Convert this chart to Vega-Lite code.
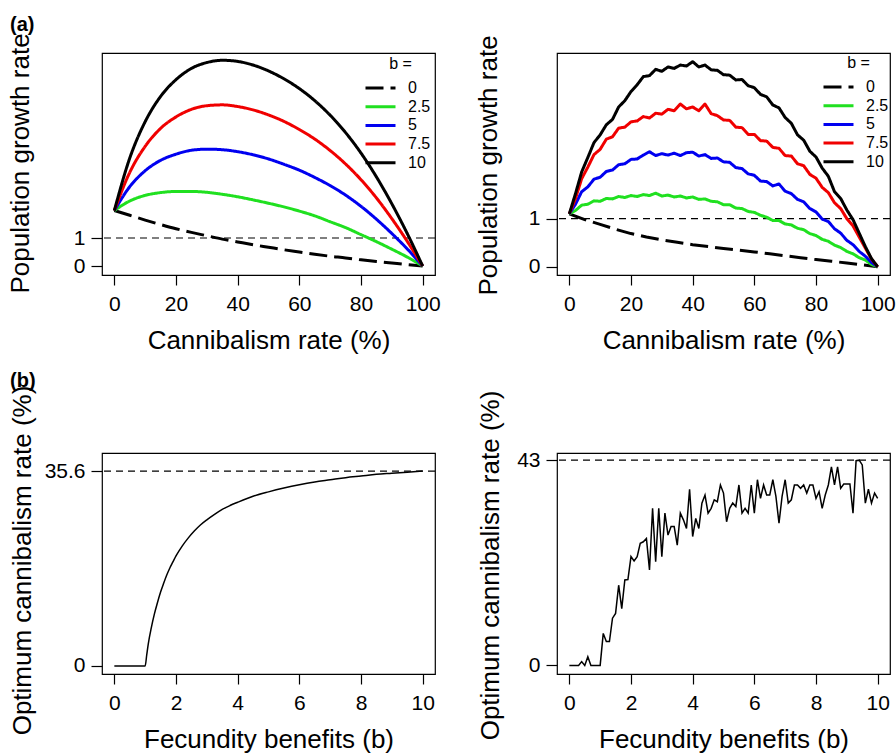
{
"$schema":"https://vega.github.io/schema/vega-lite/v6.json",
"autosize":{"type":"none"},
"padding":{"left":102,"top":53,"right":794,"bottom":702},
"background":"white",
"config":{
 "font":"Liberation Sans",
 "view":{"stroke":"black","strokeWidth":1.2},
 "axis":{"domain":false,"grid":false,"ticks":true,"tickColor":"black","tickWidth":1.2,"labelColor":"black","labelFont":"Liberation Sans","labelFontSize":21,"titleFont":"Liberation Sans","titleFontSize":26,"titleFontWeight":"normal","titleColor":"black","labelFlush":false,"labelOverlap":false},
 "axisX":{"tickSize":10,"labelPadding":8.5,"titleBaseline":"middle","titleY":65},
 "axisY":{"tickSize":11,"labelPadding":6,"labelAngle":0,"titleBaseline":"middle","titleAngle":-90}
},
"datasets":{
"tl":[
{"b":"0","c":0,"g":1.98},{"b":"0","c":5,"g":1.81},{"b":"0","c":10,"g":1.64},{"b":"0","c":15,"g":1.48},{"b":"0","c":20,"g":1.33},{"b":"0","c":25,"g":1.2},{"b":"0","c":30,"g":1.08},{"b":"0","c":35,"g":0.96},{"b":"0","c":40,"g":0.86},{"b":"0","c":45,"g":0.76},{"b":"0","c":50,"g":0.67},{"b":"0","c":55,"g":0.58},{"b":"0","c":60,"g":0.5},{"b":"0","c":65,"g":0.42},{"b":"0","c":70,"g":0.35},{"b":"0","c":75,"g":0.29},{"b":"0","c":80,"g":0.22},{"b":"0","c":85,"g":0.16},{"b":"0","c":90,"g":0.105},{"b":"0","c":95,"g":0.05},{"b":"0","c":100,"g":0},
{"b":"2.5","c":0,"g":1.98},{"b":"2.5","c":5,"g":2.32},{"b":"2.5","c":10,"g":2.52},{"b":"2.5","c":15,"g":2.62},{"b":"2.5","c":20,"g":2.66},{"b":"2.5","c":25,"g":2.66},{"b":"2.5","c":30,"g":2.63},{"b":"2.5","c":35,"g":2.56},{"b":"2.5","c":40,"g":2.47},{"b":"2.5","c":45,"g":2.36},{"b":"2.5","c":50,"g":2.24},{"b":"2.5","c":55,"g":2.11},{"b":"2.5","c":60,"g":1.96},{"b":"2.5","c":65,"g":1.79},{"b":"2.5","c":70,"g":1.58},{"b":"2.5","c":75,"g":1.37},{"b":"2.5","c":80,"g":1.12},{"b":"2.5","c":85,"g":0.87},{"b":"2.5","c":90,"g":0.6},{"b":"2.5","c":95,"g":0.32},{"b":"2.5","c":100,"g":0},
{"b":"5","c":0,"g":1.98},{"b":"5","c":5,"g":2.83},{"b":"5","c":10,"g":3.4},{"b":"5","c":15,"g":3.77},{"b":"5","c":20,"g":3.99},{"b":"5","c":25,"g":4.13},{"b":"5","c":30,"g":4.17},{"b":"5","c":35,"g":4.15},{"b":"5","c":40,"g":4.08},{"b":"5","c":45,"g":3.97},{"b":"5","c":50,"g":3.82},{"b":"5","c":55,"g":3.63},{"b":"5","c":60,"g":3.42},{"b":"5","c":65,"g":3.16},{"b":"5","c":70,"g":2.87},{"b":"5","c":75,"g":2.53},{"b":"5","c":80,"g":2.13},{"b":"5","c":85,"g":1.67},{"b":"5","c":90,"g":1.16},{"b":"5","c":95,"g":0.61},{"b":"5","c":100,"g":0},
{"b":"7.5","c":0,"g":1.98},{"b":"7.5","c":5,"g":3.34},{"b":"7.5","c":10,"g":4.27},{"b":"7.5","c":15,"g":4.91},{"b":"7.5","c":20,"g":5.32},{"b":"7.5","c":25,"g":5.59},{"b":"7.5","c":30,"g":5.72},{"b":"7.5","c":35,"g":5.75},{"b":"7.5","c":40,"g":5.69},{"b":"7.5","c":45,"g":5.57},{"b":"7.5","c":50,"g":5.39},{"b":"7.5","c":55,"g":5.16},{"b":"7.5","c":60,"g":4.87},{"b":"7.5","c":65,"g":4.53},{"b":"7.5","c":70,"g":4.12},{"b":"7.5","c":75,"g":3.64},{"b":"7.5","c":80,"g":3.08},{"b":"7.5","c":85,"g":2.43},{"b":"7.5","c":90,"g":1.69},{"b":"7.5","c":95,"g":0.88},{"b":"7.5","c":100,"g":0},
{"b":"10","c":0,"g":1.98},{"b":"10","c":5,"g":3.85},{"b":"10","c":10,"g":5.15},{"b":"10","c":15,"g":6.05},{"b":"10","c":20,"g":6.65},{"b":"10","c":25,"g":7.05},{"b":"10","c":30,"g":7.26},{"b":"10","c":35,"g":7.34},{"b":"10","c":40,"g":7.3},{"b":"10","c":45,"g":7.17},{"b":"10","c":50,"g":6.96},{"b":"10","c":55,"g":6.68},{"b":"10","c":60,"g":6.33},{"b":"10","c":65,"g":5.9},{"b":"10","c":70,"g":5.38},{"b":"10","c":75,"g":4.76},{"b":"10","c":80,"g":4.03},{"b":"10","c":85,"g":3.18},{"b":"10","c":90,"g":2.22},{"b":"10","c":95,"g":1.16},{"b":"10","c":100,"g":0}
],
"tr":[
{"b":"0","c":0,"g":1.1},{"b":"0","c":5,"g":0.98},{"b":"0","c":10,"g":0.88},{"b":"0","c":15,"g":0.78},{"b":"0","c":20,"g":0.69},{"b":"0","c":25,"g":0.62},{"b":"0","c":30,"g":0.56},{"b":"0","c":35,"g":0.51},{"b":"0","c":40,"g":0.46},{"b":"0","c":45,"g":0.42},{"b":"0","c":50,"g":0.38},{"b":"0","c":55,"g":0.345},{"b":"0","c":60,"g":0.31},{"b":"0","c":65,"g":0.27},{"b":"0","c":70,"g":0.23},{"b":"0","c":75,"g":0.19},{"b":"0","c":80,"g":0.15},{"b":"0","c":85,"g":0.115},{"b":"0","c":90,"g":0.08},{"b":"0","c":95,"g":0.04},{"b":"0","c":100,"g":0},
{"b":"2.5","c":0,"g":1.1},{"b":"2.5","c":2,"g":1.17},{"b":"2.5","c":4,"g":1.28},{"b":"2.5","c":6,"g":1.3},{"b":"2.5","c":8,"g":1.37},{"b":"2.5","c":10,"g":1.36},{"b":"2.5","c":12,"g":1.42},{"b":"2.5","c":14,"g":1.41},{"b":"2.5","c":16,"g":1.46},{"b":"2.5","c":18,"g":1.44},{"b":"2.5","c":20,"g":1.48},{"b":"2.5","c":22,"g":1.46},{"b":"2.5","c":24,"g":1.5},{"b":"2.5","c":26,"g":1.48},{"b":"2.5","c":28,"g":1.53},{"b":"2.5","c":30,"g":1.47},{"b":"2.5","c":32,"g":1.49},{"b":"2.5","c":34,"g":1.45},{"b":"2.5","c":36,"g":1.47},{"b":"2.5","c":38,"g":1.43},{"b":"2.5","c":40,"g":1.45},{"b":"2.5","c":42,"g":1.4},{"b":"2.5","c":44,"g":1.41},{"b":"2.5","c":46,"g":1.36},{"b":"2.5","c":48,"g":1.35},{"b":"2.5","c":50,"g":1.29},{"b":"2.5","c":52,"g":1.29},{"b":"2.5","c":54,"g":1.22},{"b":"2.5","c":56,"g":1.21},{"b":"2.5","c":58,"g":1.15},{"b":"2.5","c":60,"g":1.13},{"b":"2.5","c":62,"g":1.07},{"b":"2.5","c":64,"g":1.03},{"b":"2.5","c":66,"g":0.96},{"b":"2.5","c":68,"g":0.96},{"b":"2.5","c":70,"g":0.89},{"b":"2.5","c":72,"g":0.87},{"b":"2.5","c":74,"g":0.8},{"b":"2.5","c":76,"g":0.77},{"b":"2.5","c":78,"g":0.69},{"b":"2.5","c":80,"g":0.65},{"b":"2.5","c":82,"g":0.57},{"b":"2.5","c":84,"g":0.53},{"b":"2.5","c":86,"g":0.45},{"b":"2.5","c":88,"g":0.4},{"b":"2.5","c":90,"g":0.32},{"b":"2.5","c":92,"g":0.27},{"b":"2.5","c":94,"g":0.19},{"b":"2.5","c":96,"g":0.14},{"b":"2.5","c":98,"g":0.05},{"b":"2.5","c":100,"g":0},
{"b":"5","c":0,"g":1.1},{"b":"5","c":2,"g":1.3},{"b":"5","c":4,"g":1.56},{"b":"5","c":6,"g":1.66},{"b":"5","c":8,"g":1.82},{"b":"5","c":10,"g":1.86},{"b":"5","c":12,"g":1.98},{"b":"5","c":14,"g":2.01},{"b":"5","c":16,"g":2.12},{"b":"5","c":18,"g":2.14},{"b":"5","c":20,"g":2.23},{"b":"5","c":22,"g":2.24},{"b":"5","c":24,"g":2.32},{"b":"5","c":26,"g":2.39},{"b":"5","c":28,"g":2.31},{"b":"5","c":30,"g":2.35},{"b":"5","c":32,"g":2.32},{"b":"5","c":34,"g":2.36},{"b":"5","c":36,"g":2.31},{"b":"5","c":38,"g":2.37},{"b":"5","c":40,"g":2.38},{"b":"5","c":42,"g":2.3},{"b":"5","c":44,"g":2.33},{"b":"5","c":46,"g":2.25},{"b":"5","c":48,"g":2.26},{"b":"5","c":50,"g":2.18},{"b":"5","c":52,"g":2.17},{"b":"5","c":54,"g":2.06},{"b":"5","c":56,"g":2.04},{"b":"5","c":58,"g":1.93},{"b":"5","c":60,"g":1.9},{"b":"5","c":62,"g":1.78},{"b":"5","c":64,"g":1.77},{"b":"5","c":66,"g":1.68},{"b":"5","c":68,"g":1.72},{"b":"5","c":70,"g":1.57},{"b":"5","c":72,"g":1.52},{"b":"5","c":74,"g":1.4},{"b":"5","c":76,"g":1.35},{"b":"5","c":78,"g":1.21},{"b":"5","c":80,"g":1.14},{"b":"5","c":82,"g":0.99},{"b":"5","c":84,"g":0.94},{"b":"5","c":86,"g":0.79},{"b":"5","c":88,"g":0.7},{"b":"5","c":90,"g":0.55},{"b":"5","c":92,"g":0.46},{"b":"5","c":94,"g":0.32},{"b":"5","c":96,"g":0.22},{"b":"5","c":98,"g":0.09},{"b":"5","c":100,"g":0},
{"b":"7.5","c":0,"g":1.1},{"b":"7.5","c":2,"g":1.42},{"b":"7.5","c":4,"g":1.83},{"b":"7.5","c":6,"g":2.07},{"b":"7.5","c":8,"g":2.33},{"b":"7.5","c":10,"g":2.44},{"b":"7.5","c":12,"g":2.65},{"b":"7.5","c":14,"g":2.7},{"b":"7.5","c":16,"g":2.88},{"b":"7.5","c":18,"g":2.9},{"b":"7.5","c":20,"g":3.01},{"b":"7.5","c":22,"g":3.03},{"b":"7.5","c":24,"g":3.12},{"b":"7.5","c":26,"g":3.09},{"b":"7.5","c":28,"g":3.19},{"b":"7.5","c":30,"g":3.17},{"b":"7.5","c":32,"g":3.27},{"b":"7.5","c":34,"g":3.24},{"b":"7.5","c":36,"g":3.38},{"b":"7.5","c":38,"g":3.28},{"b":"7.5","c":40,"g":3.32},{"b":"7.5","c":42,"g":3.24},{"b":"7.5","c":44,"g":3.38},{"b":"7.5","c":46,"g":3.18},{"b":"7.5","c":48,"g":3.14},{"b":"7.5","c":50,"g":3.05},{"b":"7.5","c":52,"g":3.04},{"b":"7.5","c":54,"g":2.9},{"b":"7.5","c":56,"g":2.89},{"b":"7.5","c":58,"g":2.75},{"b":"7.5","c":60,"g":2.75},{"b":"7.5","c":62,"g":2.62},{"b":"7.5","c":64,"g":2.61},{"b":"7.5","c":66,"g":2.48},{"b":"7.5","c":68,"g":2.46},{"b":"7.5","c":70,"g":2.31},{"b":"7.5","c":72,"g":2.3},{"b":"7.5","c":74,"g":2.14},{"b":"7.5","c":76,"g":2.1},{"b":"7.5","c":78,"g":1.92},{"b":"7.5","c":80,"g":1.84},{"b":"7.5","c":82,"g":1.65},{"b":"7.5","c":84,"g":1.54},{"b":"7.5","c":86,"g":1.33},{"b":"7.5","c":88,"g":1.21},{"b":"7.5","c":90,"g":1.0},{"b":"7.5","c":92,"g":0.85},{"b":"7.5","c":94,"g":0.62},{"b":"7.5","c":96,"g":0.39},{"b":"7.5","c":98,"g":0.16},{"b":"7.5","c":100,"g":0},
{"b":"10","c":0,"g":1.1},{"b":"10","c":2,"g":1.52},{"b":"10","c":4,"g":1.97},{"b":"10","c":6,"g":2.27},{"b":"10","c":8,"g":2.58},{"b":"10","c":10,"g":2.74},{"b":"10","c":12,"g":2.95},{"b":"10","c":14,"g":3.06},{"b":"10","c":16,"g":3.32},{"b":"10","c":18,"g":3.45},{"b":"10","c":20,"g":3.64},{"b":"10","c":22,"g":3.78},{"b":"10","c":24,"g":3.95},{"b":"10","c":26,"g":3.97},{"b":"10","c":28,"g":4.1},{"b":"10","c":30,"g":4.06},{"b":"10","c":32,"g":4.15},{"b":"10","c":34,"g":4.12},{"b":"10","c":36,"g":4.19},{"b":"10","c":38,"g":4.17},{"b":"10","c":40,"g":4.26},{"b":"10","c":42,"g":4.15},{"b":"10","c":44,"g":4.19},{"b":"10","c":46,"g":4.09},{"b":"10","c":48,"g":4.08},{"b":"10","c":50,"g":3.99},{"b":"10","c":52,"g":3.98},{"b":"10","c":54,"g":3.88},{"b":"10","c":56,"g":3.89},{"b":"10","c":58,"g":3.76},{"b":"10","c":60,"g":3.72},{"b":"10","c":62,"g":3.58},{"b":"10","c":64,"g":3.53},{"b":"10","c":66,"g":3.36},{"b":"10","c":68,"g":3.3},{"b":"10","c":70,"g":3.1},{"b":"10","c":72,"g":2.98},{"b":"10","c":74,"g":2.74},{"b":"10","c":76,"g":2.63},{"b":"10","c":78,"g":2.4},{"b":"10","c":80,"g":2.28},{"b":"10","c":82,"g":2.05},{"b":"10","c":84,"g":1.88},{"b":"10","c":86,"g":1.56},{"b":"10","c":88,"g":1.42},{"b":"10","c":90,"g":1.18},{"b":"10","c":92,"g":0.98},{"b":"10","c":94,"g":0.7},{"b":"10","c":96,"g":0.42},{"b":"10","c":98,"g":0.17},{"b":"10","c":100,"g":0}
],
"bl":[
{"b":0,"opt":0},{"b":0.5,"opt":0},{"b":1.0,"opt":0},{"b":1.05,"opt":2.0},{"b":1.1,"opt":4.0},{"b":1.2,"opt":7.0},{"b":1.3,"opt":9.5},{"b":1.4,"opt":11.6},{"b":1.5,"opt":13.5},{"b":1.6,"opt":15.1},{"b":1.7,"opt":16.6},{"b":1.8,"opt":17.9},{"b":1.9,"opt":19.0},{"b":2.0,"opt":20.1},{"b":2.2,"opt":21.9},{"b":2.4,"opt":23.4},{"b":2.6,"opt":24.7},{"b":2.8,"opt":25.8},{"b":3.0,"opt":26.7},{"b":3.25,"opt":27.7},{"b":3.5,"opt":28.6},{"b":3.75,"opt":29.3},{"b":4.0,"opt":29.9},{"b":4.5,"opt":31.0},{"b":5.0,"opt":31.8},{"b":5.5,"opt":32.5},{"b":6.0,"opt":33.1},{"b":6.5,"opt":33.6},{"b":7.0,"opt":34.0},{"b":7.5,"opt":34.4},{"b":8.0,"opt":34.7},{"b":8.5,"opt":35.0},{"b":9.0,"opt":35.2},{"b":9.5,"opt":35.4},{"b":10.0,"opt":35.6}
],
"br":[
{"b":0,"opt":0},{"b":0.1,"opt":0},{"b":0.2,"opt":0},{"b":0.3,"opt":0},{"b":0.4,"opt":0.8},{"b":0.5,"opt":0},{"b":0.6,"opt":1.8},{"b":0.7,"opt":0},{"b":0.8,"opt":0},{"b":0.9,"opt":0},{"b":1.0,"opt":0},{"b":1.1,"opt":6.7},{"b":1.2,"opt":5.0},{"b":1.3,"opt":5.0},{"b":1.4,"opt":9.9},{"b":1.5,"opt":10.9},{"b":1.6,"opt":16.8},{"b":1.7,"opt":11.9},{"b":1.8,"opt":17.9},{"b":1.9,"opt":18.0},{"b":2.0,"opt":22.8},{"b":2.1,"opt":21.9},{"b":2.2,"opt":22.8},{"b":2.3,"opt":25.6},{"b":2.4,"opt":25.9},{"b":2.5,"opt":26.6},{"b":2.6,"opt":20.0},{"b":2.7,"opt":32.9},{"b":2.8,"opt":21.7},{"b":2.9,"opt":32.9},{"b":3.0,"opt":22.8},{"b":3.1,"opt":31.9},{"b":3.2,"opt":27.3},{"b":3.3,"opt":29.1},{"b":3.4,"opt":29.1},{"b":3.5,"opt":25.2},{"b":3.6,"opt":31.9},{"b":3.7,"opt":30.5},{"b":3.8,"opt":28.7},{"b":3.9,"opt":36.9},{"b":4.0,"opt":27.0},{"b":4.1,"opt":30.8},{"b":4.2,"opt":28.7},{"b":4.3,"opt":34.0},{"b":4.4,"opt":35.7},{"b":4.5,"opt":31.9},{"b":4.6,"opt":32.9},{"b":4.7,"opt":34.7},{"b":4.8,"opt":34.3},{"b":4.9,"opt":37.8},{"b":5.0,"opt":36.1},{"b":5.1,"opt":30.1},{"b":5.2,"opt":32.9},{"b":5.3,"opt":34.0},{"b":5.4,"opt":33.3},{"b":5.5,"opt":37.8},{"b":5.6,"opt":31.9},{"b":5.7,"opt":32.9},{"b":5.8,"opt":31.9},{"b":5.9,"opt":37.8},{"b":6.0,"opt":31.9},{"b":6.1,"opt":38.9},{"b":6.2,"opt":35.0},{"b":6.3,"opt":37.8},{"b":6.4,"opt":35.7},{"b":6.5,"opt":35.7},{"b":6.6,"opt":38.9},{"b":6.7,"opt":35.4},{"b":6.8,"opt":29.8},{"b":6.9,"opt":35.4},{"b":7.0,"opt":38.9},{"b":7.1,"opt":34.0},{"b":7.2,"opt":34.7},{"b":7.3,"opt":37.8},{"b":7.4,"opt":37.8},{"b":7.5,"opt":37.1},{"b":7.6,"opt":37.8},{"b":7.7,"opt":36.1},{"b":7.8,"opt":37.8},{"b":7.9,"opt":37.8},{"b":8.0,"opt":35.0},{"b":8.1,"opt":36.4},{"b":8.2,"opt":32.9},{"b":8.3,"opt":35.7},{"b":8.4,"opt":37.8},{"b":8.5,"opt":41.6},{"b":8.6,"opt":37.8},{"b":8.7,"opt":41.6},{"b":8.8,"opt":37.1},{"b":8.9,"opt":38.0},{"b":9.0,"opt":38.0},{"b":9.1,"opt":38.0},{"b":9.2,"opt":31.9},{"b":9.3,"opt":42.9},{"b":9.4,"opt":43.0},{"b":9.5,"opt":42.0},{"b":9.6,"opt":34.0},{"b":9.7,"opt":36.9},{"b":9.8,"opt":34.0},{"b":9.9,"opt":36.1},{"b":10.0,"opt":35.0}
]
},
"columns":2,
"bounds":"flush",
"spacing":{"row":178,"column":122},
"resolve":{"scale":{"color":"independent","strokeDash":"independent"},"legend":{"color":"independent","strokeDash":"independent"}},
"concat":[
{
 "width":333,"height":222,
 "title":{"text":"(a)","anchor":"start","frame":"group","orient":"top","offset":-22,"dx":-92,"baseline":"bottom","fontSize":20,"fontWeight":"bold","color":"black","font":"Liberation Sans"},
 "layer":[
  {"data":{"values":[{"g":1}]},"mark":{"type":"rule","color":"black","strokeWidth":1.2,"strokeDash":[7,5]},
   "encoding":{"y":{"field":"g","type":"quantitative","scale":{"domain":[-0.32,7.6],"nice":false,"zero":false},"axis":{"values":[0,1],"format":"d","title":"Population growth rate","titleX":-82,"titleY":110}}}},
  {"data":{"name":"tl"},"mark":{"type":"line","strokeWidth":3,"interpolate":"monotone","strokeCap":"butt"},
   "encoding":{
    "x":{"field":"c","type":"quantitative","scale":{"domain":[-4,104],"nice":false,"zero":false},"axis":{"values":[0,20,40,60,80,100],"title":"Cannibalism rate (%)"}},
    "y":{"field":"g","type":"quantitative","scale":{"domain":[-0.32,7.6],"nice":false,"zero":false},"axis":{"values":[0,1],"format":"d","title":"Population growth rate","titleX":-82,"titleY":110}},
    "color":{"field":"b","type":"nominal","scale":{"domain":["0","2.5","5","7.5","10"],"range":["black","#20e020","#0000f0","#f00000","black"]},
      "legend":{"title":"b =","orient":"none","legendX":269.5,"legendY":3,"symbolType":"M-2,0H2","symbolSize":225,"symbolStrokeWidth":3,"labelFontSize":16,"labelFont":"Liberation Sans","titleFont":"Liberation Sans","titleFontSize":16,"titleFontWeight":"normal","titleAnchor":"middle","titleAlign":"center","titlePadding":7,"labelOffset":18.5,"rowPadding":1.7,"padding":0,"labelColor":"black","titleColor":"black"}},
    "strokeDash":{"field":"b","type":"nominal","scale":{"domain":["0","2.5","5","7.5","10"],"range":[[18,7],[1,0],[1,0],[1,0],[1,0]]},
      "legend":{"title":"b =","orient":"none","legendX":269.5,"legendY":3,"symbolType":"M-2,0H2","symbolSize":225,"symbolStrokeWidth":3,"labelFontSize":16,"labelFont":"Liberation Sans","titleFont":"Liberation Sans","titleFontSize":16,"titleFontWeight":"normal","titleAnchor":"middle","titleAlign":"center","titlePadding":7,"labelOffset":18.5,"rowPadding":1.7,"padding":0,"labelColor":"black","titleColor":"black"}}
   }}
 ]
},
{
 "width":333,"height":222,
 "layer":[
  {"data":{"values":[{"g":1}]},"mark":{"type":"rule","color":"black","strokeWidth":1.2,"strokeDash":[7,5]},
   "encoding":{"y":{"field":"g","type":"quantitative","scale":{"domain":[-0.17,4.44],"nice":false,"zero":false},"axis":{"values":[0,1],"format":"d","title":"Population growth rate","titleX":-69,"titleY":112}}}},
  {"data":{"name":"tr"},"mark":{"type":"line","strokeWidth":3,"interpolate":"linear","strokeCap":"butt","strokeJoin":"round"},
   "encoding":{
    "x":{"field":"c","type":"quantitative","scale":{"domain":[-4,104],"nice":false,"zero":false},"axis":{"values":[0,20,40,60,80,100],"title":"Cannibalism rate (%)"}},
    "y":{"field":"g","type":"quantitative","scale":{"domain":[-0.17,4.44],"nice":false,"zero":false},"axis":{"values":[0,1],"format":"d","title":"Population growth rate","titleX":-69,"titleY":112}},
    "color":{"field":"b","type":"nominal","scale":{"domain":["0","2.5","5","7.5","10"],"range":["black","#20e020","#0000f0","#f00000","black"]},
      "legend":{"title":"b =","orient":"none","legendX":272.5,"legendY":2,"symbolType":"M-2,0H2","symbolSize":225,"symbolStrokeWidth":3,"labelFontSize":16,"labelFont":"Liberation Sans","titleFont":"Liberation Sans","titleFontSize":16,"titleFontWeight":"normal","titleAnchor":"middle","titleAlign":"center","titlePadding":7,"labelOffset":18.5,"rowPadding":1.7,"padding":0,"labelColor":"black","titleColor":"black"}},
    "strokeDash":{"field":"b","type":"nominal","scale":{"domain":["0","2.5","5","7.5","10"],"range":[[18,7],[1,0],[1,0],[1,0],[1,0]]},
      "legend":{"title":"b =","orient":"none","legendX":272.5,"legendY":2,"symbolType":"M-2,0H2","symbolSize":225,"symbolStrokeWidth":3,"labelFontSize":16,"labelFont":"Liberation Sans","titleFont":"Liberation Sans","titleFontSize":16,"titleFontWeight":"normal","titleAnchor":"middle","titleAlign":"center","titlePadding":7,"labelOffset":18.5,"rowPadding":1.7,"padding":0,"labelColor":"black","titleColor":"black"}}
   }}
 ]
},
{
 "width":333,"height":221,
 "title":{"text":"(b)","anchor":"start","frame":"group","orient":"top","offset":-26,"dx":-92,"baseline":"bottom","fontSize":20,"fontWeight":"bold","color":"black","font":"Liberation Sans"},
 "layer":[
  {"data":{"values":[{"opt":35.6}]},"mark":{"type":"rule","color":"black","strokeWidth":1.2,"strokeDash":[7,5]},
   "encoding":{"y":{"field":"opt","type":"quantitative","scale":{"domain":[-1.47,38.9],"nice":false,"zero":false},"axis":{"values":[0,35.6],"format":".1~f","title":"Optimum cannibalism rate (%)","titleX":-80,"titleY":107}}}},
  {"data":{"name":"bl"},"mark":{"type":"line","color":"black","strokeWidth":1.5,"interpolate":"monotone"},
   "encoding":{
    "x":{"field":"b","type":"quantitative","scale":{"domain":[-0.4,10.4],"nice":false,"zero":false},"axis":{"values":[0,2,4,6,8,10],"title":"Fecundity benefits (b)"}},
    "y":{"field":"opt","type":"quantitative","scale":{"domain":[-1.47,38.9],"nice":false,"zero":false},"axis":{"values":[0,35.6],"format":".1~f","title":"Optimum cannibalism rate (%)","titleX":-80,"titleY":107}}
   }}
 ]
},
{
 "width":333,"height":221,
 "layer":[
  {"data":{"values":[{"opt":43}]},"mark":{"type":"rule","color":"black","strokeWidth":1.2,"strokeDash":[7,5]},
   "encoding":{"y":{"field":"opt","type":"quantitative","scale":{"domain":[-1.8,44.5],"nice":false,"zero":false},"axis":{"values":[0,43],"format":"d","title":"Optimum cannibalism rate (%)","titleX":-67,"titleY":112}}}},
  {"data":{"name":"br"},"mark":{"type":"line","color":"black","strokeWidth":1.5,"interpolate":"linear"},
   "encoding":{
    "x":{"field":"b","type":"quantitative","scale":{"domain":[-0.4,10.4],"nice":false,"zero":false},"axis":{"values":[0,2,4,6,8,10],"title":"Fecundity benefits (b)"}},
    "y":{"field":"opt","type":"quantitative","scale":{"domain":[-1.8,44.5],"nice":false,"zero":false},"axis":{"values":[0,43],"format":"d","title":"Optimum cannibalism rate (%)","titleX":-67,"titleY":112}}
   }}
 ]
}
]
}
